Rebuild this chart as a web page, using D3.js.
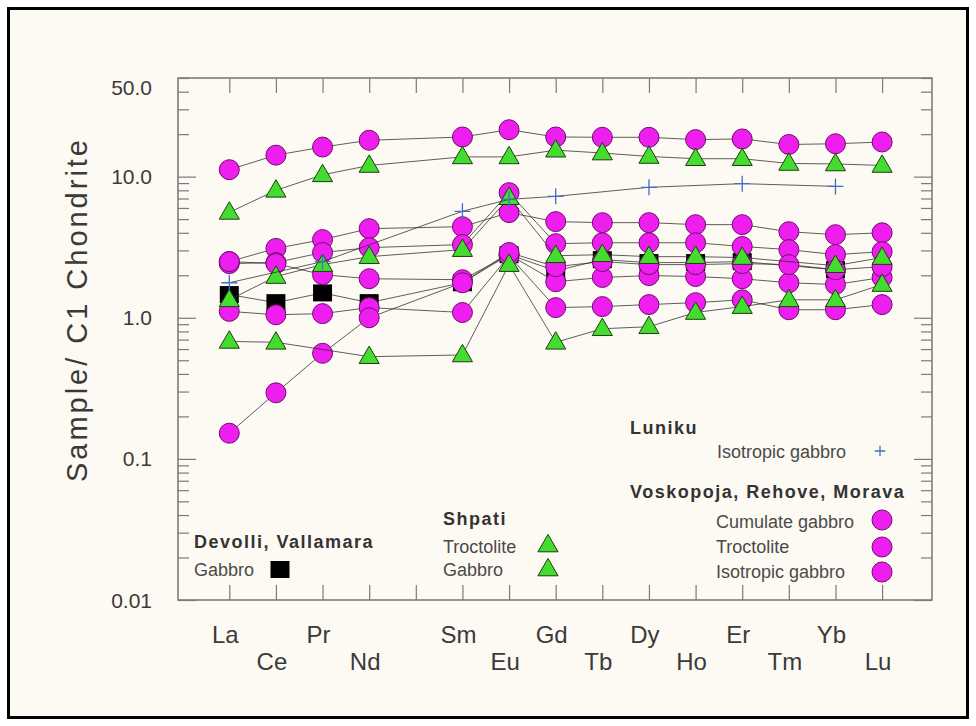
<!DOCTYPE html>
<html>
<head>
<meta charset="utf-8">
<script src="https://cdn.jsdelivr.net/npm/d3@7"></script>
<style>
  body { margin: 0; background: #ffffff; }
  text { font-family: "Liberation Sans", Arial, sans-serif; }
</style>
</head>
<body>
<div id="chart"></div>
<script>
// REE elements (Pm is not measured, kept as an empty slot)
var elements = ['La', 'Ce', 'Pr', 'Nd', 'Pm', 'Sm', 'Eu', 'Gd', 'Tb', 'Dy', 'Ho', 'Er', 'Tm', 'Yb', 'Lu'];
var elementLabels = ['La', 'Ce', 'Pr', 'Nd', '', 'Sm', 'Eu', 'Gd', 'Tb', 'Dy', 'Ho', 'Er', 'Tm', 'Yb', 'Lu'];

var yTickValues = [50, 10, 1, 0.1, 0.01];
var yTickLabels = ['50.0', '10.0', '1.0', '0.1', '0.01'];

// Devolli, Vallamara - gabbro (squares)
var devolliGabbro = [1.46, 1.28, 1.50, 1.28, null, 1.77, 2.8, 2.15, 2.58, 2.46, 2.46, 2.5, null, 2.19, null];

// Voskopoja, Rehove, Morava (circles)
var voskA = [11.2, 14.2, 16.2, 18.1, null, 19.1, 21.5, 19.1, 19.0, 19.0, 18.3, 18.5, 16.9, 17.1, 17.6];
var voskB = [2.5, 3.1, 3.58, 4.28, null, 4.42, 5.56, 4.8, 4.72, 4.72, 4.57, 4.57, 4.07, 3.88, 4.0];
var voskC = [2.42, 2.46, 2.9, 3.14, null, 3.3, 7.7, 3.35, 3.4, 3.4, 3.4, 3.2, 3.04, 2.8, 2.94];
var voskD = [2.5, 2.42, 2.02, 1.89, null, 1.86, 2.8, 1.80, 1.93, 1.99, 1.96, 1.89, 1.77, 1.72, 1.93];
var voskE = [1.11, 1.05, 1.07, 1.18, null, 1.09, 2.75, 1.18, 1.2, 1.24, 1.28, 1.34, 1.14, 1.14, 1.24];
var voskF = [0.152, 0.294, 0.56, 1.0, null, 1.77, 2.9, 2.3, 2.5, 2.38, 2.38, 2.42, 2.38, 2.19, 2.3];

// Shpati (triangles)
var shpati1 = [5.58, 8.0, 10.3, 12.0, null, 13.8, 13.8, 15.4, 14.7, 13.9, 13.4, 13.4, 12.4, 12.3, 12.0];
var shpati2 = [1.34, 1.96, 2.38, 2.71, null, 3.04, 7.09, 2.75, 2.8, 2.71, 2.71, 2.67, null, 2.34, 2.67];
var shpati3 = [0.68, 0.67, null, 0.53, null, 0.545, 2.38, 0.67, 0.836, 0.864, 1.09, 1.2, 1.34, 1.34, 1.72];

// Luniku - isotropic gabbro (plus)
var luniku = [1.77, null, 2.5, null, null, 5.68, 6.9, 7.25, null, 8.4, null, 8.92, null, 8.53, null];

var series = [
  {values: devolliGabbro, shape: 'square'},
  {values: voskA, shape: 'circle'},
  {values: voskB, shape: 'circle'},
  {values: voskC, shape: 'circle'},
  {values: voskD, shape: 'circle'},
  {values: voskE, shape: 'circle'},
  {values: voskF, shape: 'circle'},
  {values: shpati1, shape: 'triangle'},
  {values: shpati2, shape: 'triangle'},
  {values: shpati3, shape: 'triangle'},
  {values: luniku, shape: 'plus'}
];

var W = 976, H = 726;
var plot = {left: 178, right: 932, top: 78, bottom: 600};

var magenta = '#ee1fee', magentaStroke = '#6e0a6e';
var green = '#45dc30', greenStroke = '#1d3d10';
var blue = '#3f6fc8';

var svg = d3.select('#chart').append('svg')
    .attr('width', W)
    .attr('height', H);

// background and outer border
svg.append('rect')
    .attr('x', 8.5).attr('y', 8.5)
    .attr('width', 959).attr('height', 709)
    .attr('fill', '#fdfaf3')
    .attr('stroke', '#000')
    .attr('stroke-width', 3);

var x = d3.scaleLinear().domain([-1.1, 15.07]).range([plot.left, plot.right]);
var y = d3.scaleLog().domain([0.01, 50]).range([plot.bottom, plot.top]);

// frame
svg.append('rect')
    .attr('x', plot.left).attr('y', plot.top)
    .attr('width', plot.right - plot.left)
    .attr('height', plot.bottom - plot.top)
    .attr('fill', 'none')
    .attr('stroke', '#6a6a6a')
    .attr('stroke-width', 1.4);

// x ticks, top and bottom, pointing inward
var idx = d3.range(elements.length);
svg.append('g')
    .attr('class', 'xaxis')
    .attr('transform', 'translate(0,' + plot.bottom + ')')
    .call(d3.axisBottom(x).tickValues(idx).tickSize(-15).tickFormat(''));
svg.append('g')
    .attr('class', 'xaxis')
    .attr('transform', 'translate(0,' + plot.top + ')')
    .call(d3.axisTop(x).tickValues(idx).tickSize(-15).tickFormat(''));

// y ticks, left and right (majors at decades longer)
var yMinor = [];
[0.01, 0.1, 1, 10].forEach(function(dec) {
  for (var k = 1; k <= 9; k++) {
    var v = dec * k;
    if (v <= 50) yMinor.push(+v.toPrecision(3));
  }
});
yMinor.push(20, 30, 40);
yMinor = Array.from(new Set(yMinor)).filter(function(v) { return v <= 50; });
function isMajor(v) { return [0.01, 0.1, 1, 10].indexOf(v) >= 0; }

svg.append('g')
    .attr('class', 'yaxis')
    .attr('transform', 'translate(' + plot.left + ',0)')
    .call(d3.axisLeft(y).tickValues(yMinor).tickFormat(''))
    .selectAll('.tick line')
    .attr('x2', function(d) { return isMajor(d) ? 18 : 11; });
svg.append('g')
    .attr('class', 'yaxis')
    .attr('transform', 'translate(' + plot.right + ',0)')
    .call(d3.axisRight(y).tickValues(yMinor).tickFormat(''))
    .selectAll('.tick line')
    .attr('x2', function(d) { return isMajor(d) ? -18 : -11; });

svg.selectAll('.xaxis path, .yaxis path').remove();
svg.selectAll('.xaxis line, .yaxis line')
    .attr('stroke', '#7a7a7a')
    .attr('stroke-width', 1.2);

// y tick labels
svg.selectAll('.ylab')
    .data(yTickValues)
    .enter().append('text')
    .attr('class', 'ylab')
    .attr('x', 152)
    .attr('y', function(d, i) { return y(d) + (i === 0 ? 9 : 0); })
    .attr('dy', '0.36em')
    .attr('text-anchor', 'end')
    .attr('font-size', 21)
    .attr('fill', '#3a3a3a')
    .text(function(d, i) { return yTickLabels[i]; });

// element labels in two alternating rows
var labelRow = 0;
svg.selectAll('.xlab')
    .data(idx.filter(function(i) { return elementLabels[i] !== ''; }))
    .enter().append('text')
    .attr('class', 'xlab')
    .attr('x', function(i) { return x(i) - 4; })
    .attr('y', function(d, k) { return k % 2 === 0 ? 643 : 670; })
    .attr('text-anchor', 'middle')
    .attr('font-size', 24)
    .attr('fill', '#3a3a3a')
    .text(function(i) { return elementLabels[i]; });

// y axis title
svg.append('text')
    .attr('transform', 'translate(87,311) rotate(-90)')
    .attr('text-anchor', 'middle')
    .attr('font-size', 29)
    .attr('fill', '#3a3a3a')
    .attr('textLength', 342)
    .attr('lengthAdjust', 'spacing')
    .text('Sample/ C1 Chondrite');

// markers
var triangle = d3.symbol().type(d3.symbolTriangle).size(175);
function drawMarker(g, shape, cx, cy, scale) {
  scale = scale || 1;
  if (shape === 'circle') {
    g.append('circle')
        .attr('cx', cx).attr('cy', cy).attr('r', 10 * scale)
        .attr('fill', magenta).attr('stroke', magentaStroke).attr('stroke-width', 1);
  } else if (shape === 'triangle') {
    g.append('path')
        .attr('d', d3.symbol().type(d3.symbolTriangle).size(175 * scale * scale)())
        .attr('transform', 'translate(' + cx + ',' + (cy + 1) + ')')
        .attr('fill', green).attr('stroke', greenStroke).attr('stroke-width', 1);
  } else if (shape === 'square') {
    g.append('rect')
        .attr('x', cx - 9.5 * scale).attr('y', cy - 8.5 * scale)
        .attr('width', 19 * scale).attr('height', 17 * scale)
        .attr('fill', '#000');
  } else if (shape === 'plus') {
    var s = 8 * scale;
    g.append('path')
        .attr('d', 'M' + (cx - s) + ',' + cy + 'H' + (cx + s) + 'M' + cx + ',' + (cy - s) + 'V' + (cy + s))
        .attr('stroke', blue).attr('stroke-width', 1.3).attr('fill', 'none');
  }
}

var line = d3.line()
    .x(function(d) { return x(d.i); })
    .y(function(d) { return y(d.v); });

series.forEach(function(s) {
  var pts = s.values.map(function(v, i) { return {i: i, v: v}; })
      .filter(function(d) { return d.v !== null; });
  var g = svg.append('g');
  g.append('path')
      .datum(pts)
      .attr('d', line)
      .attr('fill', 'none')
      .attr('stroke', '#2a2a2a')
      .attr('stroke-opacity', 0.75)
      .attr('stroke-width', 1);
  pts.forEach(function(d) {
    drawMarker(g, s.shape, x(d.i), y(d.v));
  });
});

// legend
var legend = svg.append('g');
function boldText(tx, ty, t) {
  legend.append('text')
      .attr('x', tx).attr('y', ty)
      .attr('font-size', 18).attr('font-weight', 'bold')
      .attr('letter-spacing', 1.5)
      .attr('fill', '#333')
      .text(t);
}
function regText(tx, ty, t) {
  legend.append('text')
      .attr('x', tx).attr('y', ty)
      .attr('font-size', 18)
      .attr('fill', '#4a4a4a')
      .text(t);
}

boldText(194, 548, 'Devolli, Vallamara');
regText(194, 576, 'Gabbro');
drawMarker(legend, 'square', 280, 569.5);

boldText(443, 525, 'Shpati');
regText(443, 553, 'Troctolite');
drawMarker(legend, 'triangle', 548, 545);
regText(443, 576, 'Gabbro');
drawMarker(legend, 'triangle', 548, 569);

boldText(630, 434, 'Luniku');
regText(717, 458, 'Isotropic gabbro');
drawMarker(legend, 'plus', 880, 451, 0.65);

boldText(630, 498, 'Voskopoja, Rehove, Morava');
regText(716, 528, 'Cumulate gabbro');
drawMarker(legend, 'circle', 882, 520);
regText(716, 553, 'Troctolite');
drawMarker(legend, 'circle', 882, 547);
regText(716, 578, 'Isotropic gabbro');
drawMarker(legend, 'circle', 882, 572);
</script>
</body>
</html>
